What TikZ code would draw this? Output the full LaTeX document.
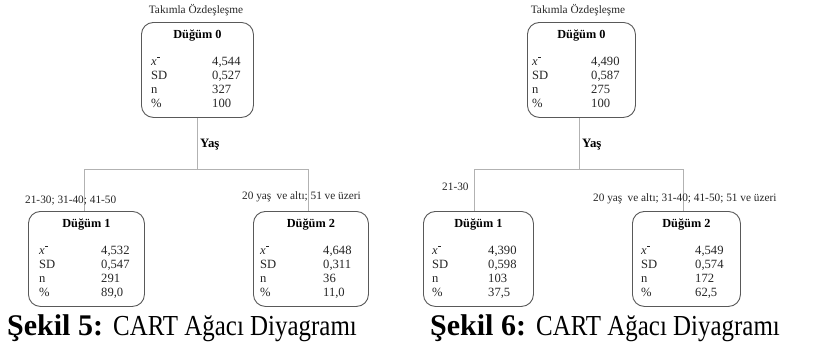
\documentclass[tikz,border=0pt]{standalone}
\usepackage{fontspec}
\setmainfont{Liberation Serif}
\usetikzlibrary{calc}
\tikzset{
  cbox/.style={draw=black!65, line width=0.9pt, rounded corners=12pt, fill=none, inner sep=0pt},
  ctitle/.style={font=\fontsize{12.3}{14}\selectfont\bfseries, inner sep=0pt, anchor=mid},
  crow/.style={font=\fontsize{12.6}{14}\selectfont, inner sep=0pt, anchor=mid west, text=black!85},
  small/.style={font=\fontsize{11.3}{13}\selectfont, inner sep=0pt, anchor=mid west, text=black!85},
  yas/.style={font=\fontsize{12.8}{14}\selectfont\bfseries, inner sep=0pt, anchor=mid west},
  conn/.style={draw=black!30, line width=0.9pt},
  caption/.style={font=\fontsize{29}{32}\selectfont, inner sep=0pt, anchor=base west}
}
\newcommand\xbarsym{\textit{x}\kern0.3pt\raisebox{0.62em}{\rule{2.8pt}{0.45pt}}}
\newcommand\capregular[1]{\scalebox{0.86}[1]{#1}}
% #1 name, #2 left x, #3 top y, #4 width, #5 title
\newcommand\cartbox[5]{%
  \node[cbox, minimum width=#4pt, minimum height=95pt, anchor=north west] (#1) at (#2,#3) {};
  \node[ctitle] (#1t) at ($(#1.north)+(0,14)$) {#5};
}
% #1 name, #2 label x, #3 value x, #4 top y, #5-#8 values
\newcommand\cartrows[8]{%
  \node[crow] (#1la) at (#2,#4+41) {\xbarsym};
  \node[crow] (#1va) at (#3,#4+41) {#5};
  \node[crow] (#1lb) at (#2,#4+55.5) {SD};
  \node[crow] (#1vb) at (#3,#4+55.5) {#6};
  \node[crow] (#1lc) at (#2,#4+69.5) {n};
  \node[crow] (#1vc) at (#3,#4+69.5) {#7};
  \node[crow] (#1ld) at (#2,#4+83.5) {\%};
  \node[crow] (#1vd) at (#3,#4+83.5) {#8};
}
\begin{document}
\begin{tikzpicture}[x=1pt,y=-1pt]
\useasboundingbox (0,0) rectangle (815,348);
\fill[white] (0,0) rectangle (815,348);

% ---------- Left tree (Sekil 5) ----------
\node[small, anchor=mid] (Ltop) at (196,11) {Takımla Özdeşleşme};
\cartbox{L0}{141}{22}{112}{Düğüm 0}
\cartrows{L0}{151}{212}{22}{4,544}{0,527}{327}{100}
\cartbox{L1}{28}{211}{116}{Düğüm 1}
\cartrows{L1}{39}{101}{211}{4,532}{0,547}{291}{89,0}
\cartbox{L2}{253}{211}{115}{Düğüm 2}
\cartrows{L2}{260}{323}{211}{4,648}{0,311}{36}{11,0}

\coordinate (Lm) at (197,169);
\coordinate (Lj1) at (84,169);
\coordinate (Lj2) at (308,169);
\draw[conn] (L0.south -| Lm) -- (Lm);
\draw[conn] (Lj1) -- (Lj2);
\draw[conn] (Lj1) -- (Lj1 |- L1.north);
\draw[conn] (Lj2) -- (Lj2 |- L2.north);

\node[yas] (Lyas) at (200,145) {Yaş};
\node[small] (Lb1) at (25,201) {21-30; 31-40; 41-50};
\node[small] (Lb2) at (242,197) {20 yaş\hspace{2.5pt} ve altı; 51 ve üzeri};

\node[caption] (Lcap) at (7,335) {{\fontsize{30}{32}\selectfont\bfseries Şekil 5:}\hspace{0.5pt} \capregular{CART Ağacı Diyagramı}};

% ---------- Right tree (Sekil 6) ----------
\node[small, anchor=mid] (Rtop) at (578,11) {Takımla Özdeşleşme};
\cartbox{R0}{527}{22}{108}{Düğüm 0}
\cartrows{R0}{532}{591}{22}{4,490}{0,587}{275}{100}
\cartbox{R1}{423}{211}{110}{Düğüm 1}
\cartrows{R1}{432}{488}{211}{4,390}{0,598}{103}{37,5}
\cartbox{R2}{632}{211}{108}{Düğüm 2}
\cartrows{R2}{641}{695}{211}{4,549}{0,574}{172}{62,5}

\coordinate (Rm) at (579,169);
\coordinate (Rj1) at (474,169);
\coordinate (Rj2) at (683,169);
\draw[conn] (R0.south -| Rm) -- (Rm);
\draw[conn] (Rj1) -- (Rj2);
\draw[conn] (Rj1) -- (Rj1 |- R1.north);
\draw[conn] (Rj2) -- (Rj2 |- R2.north);

\node[yas] (Ryas) at (582,145) {Yaş};
\node[small] (Rb1) at (442,188) {21-30};
\node[small] (Rb2) at (593,199) {20 yaş\hspace{2.5pt} ve altı; 31-40; 41-50; 51 ve üzeri};

\node[caption] (Rcap) at (430,335) {{\fontsize{30}{32}\selectfont\bfseries Şekil 6:}\hspace{0.5pt} \capregular{CART Ağacı Diyagramı}};
\end{tikzpicture}
\end{document}
